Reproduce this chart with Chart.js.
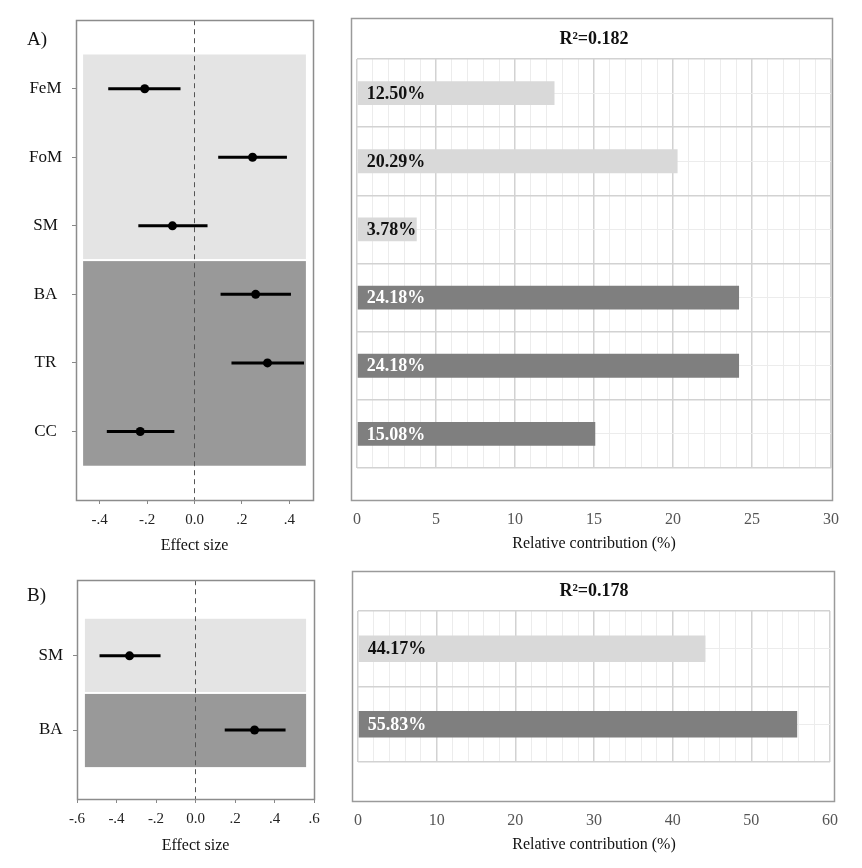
<!DOCTYPE html>
<html>
<head>
<meta charset="utf-8">
<script src="https://cdn.jsdelivr.net/npm/chart.js@4"></script>
<style>
  body { margin: 0; background: #fff; }
  #wrap { position: relative; width: 862px; height: 868px; font-family: 'Liberation Serif', serif; }
  canvas { position: absolute; }
  .tag { position: absolute; font-size: 19px; line-height: 19px; color: #111; }
</style>
</head>
<body>
<div id="wrap">
  <canvas id="forestA" width="340" height="560" style="left:0;top:0"></canvas>
  <canvas id="barA" width="522" height="560" style="left:340px;top:0"></canvas>
  <canvas id="forestB" width="340" height="308" style="left:0;top:560px"></canvas>
  <canvas id="barB" width="522" height="308" style="left:340px;top:560px"></canvas>
  <div class="tag" style="left:27px;top:29px">A)</div>
  <div class="tag" style="left:27px;top:585px">B)</div>
</div>
<script>
// panel A
const factorsA = ['FeM', 'FoM', 'SM', 'BA', 'TR', 'CC'];
const groupA = ['light', 'light', 'light', 'dark', 'dark', 'dark'];
const effectA = [-0.21, 0.245, -0.093, 0.258, 0.308, -0.229];
const lowerA = [-0.364, 0.10, -0.237, 0.11, 0.156, -0.37];
const upperA = [-0.059, 0.39, 0.055, 0.407, 0.462, -0.085];
const contribA = [12.50, 20.29, 3.78, 24.18, 24.18, 15.08];
const r2A = '0.182';
const effectTicksA = [-0.4, -0.2, 0, 0.2, 0.4];
const effectLabelsA = ['-.4', '-.2', '0.0', '.2', '.4'];

// panel B
const factorsB = ['SM', 'BA'];
const groupB = ['light', 'dark'];
const effectB = [-0.334, 0.299];
const lowerB = [-0.486, 0.148];
const upperB = [-0.177, 0.456];
const contribB = [44.17, 55.83];
const r2B = '0.178';
const effectTicksB = [-0.6, -0.4, -0.2, 0, 0.2, 0.4, 0.6];
const effectLabelsB = ['-.6', '-.4', '-.2', '0.0', '.2', '.4', '.6'];

Chart.defaults.font.family = "'Liberation Serif', 'Times New Roman', serif";
Chart.defaults.color = '#222';
Chart.defaults.animation = false;

const shade = { light: '#e4e4e4', dark: '#999999' };
const barShade = { light: '#d9d9d9', dark: '#7f7f7f' };

// grey bands behind the forest plot, one per run of same group
const bandPlugin = {
  id: 'bands',
  beforeDatasetsDraw(chart, args, opts) {
    const { ctx, scales: { x, y } } = chart;
    const g = opts.groups;
    const left = x.getPixelForValue(-opts.halfWidth);
    const right = x.getPixelForValue(opts.halfWidth);
    ctx.save();
    let start = 0;
    for (let i = 1; i <= g.length; i++) {
      if (i === g.length || g[i] !== g[start]) {
        const top = y.getPixelForValue(start - 0.5) + (start > 0 ? 1 : 0);
        const bottom = y.getPixelForValue(i - 0.5) - (i < g.length ? 1 : 0);
        ctx.fillStyle = shade[g[start]];
        ctx.fillRect(left, top, right - left, bottom - top);
        start = i;
      }
    }
    ctx.restore();
  },
};

const framePlugin = {
  id: 'frame',
  afterDraw(chart, args, opts) {
    const { ctx, chartArea: a } = chart;
    const [dl, dt, dr, db] = opts.pad;
    ctx.save();
    ctx.strokeStyle = opts.color;
    ctx.lineWidth = opts.width;
    const l = Math.round(a.left - dl) + 0.5;
    const t = Math.round(a.top - dt) + 0.5;
    const r = Math.round(a.right + dr) + 0.5;
    const b = Math.round(a.bottom + db) + 0.5;
    ctx.strokeRect(l, t, r - l, b - t);
    ctx.restore();
  },
};

const barLabelPlugin = {
  id: 'barLabels',
  afterDatasetsDraw(chart, args, opts) {
    const { ctx } = chart;
    const meta = chart.getDatasetMeta(0);
    const values = chart.data.datasets[0].data;
    ctx.save();
    ctx.font = "bold 18px 'Liberation Serif'";
    ctx.textBaseline = 'middle';
    meta.data.forEach((bar, i) => {
      ctx.fillStyle = opts.groups[i] === 'dark' ? '#ffffff' : '#111111';
      ctx.fillText(values[i].toFixed(2) + '%', bar.base + opts.inset, bar.y + 1);
    });
    ctx.restore();
  },
};

function makeForest(canvasId, cfg) {
  const ci = [];
  cfg.cats.forEach((c, i) => {
    ci.push({ x: cfg.lower[i], y: i }, { x: cfg.upper[i], y: i }, { x: cfg.upper[i], y: null });
  });
  return new Chart(document.getElementById(canvasId), {
    type: 'scatter',
    data: {
      datasets: [
        {
          data: cfg.effect.map((v, i) => ({ x: v, y: i })),
          pointRadius: 4.5,
          pointBackgroundColor: '#000',
          pointBorderWidth: 0,
        },
        {
          data: ci,
          showLine: true,
          spanGaps: false,
          pointRadius: 0,
          borderColor: '#000',
          borderWidth: 3,
        },
        {
          data: [{ x: 0, y: cfg.yMin }, { x: 0, y: cfg.yMax }],
          showLine: true,
          pointRadius: 0,
          borderColor: '#555',
          borderWidth: 1,
          borderDash: [5, 4],
        },
      ],
    },
    options: {
      responsive: false,
      events: [],
      layout: { padding: { top: cfg.padTop, right: cfg.padRight, left: 0, bottom: 0 } },
      plugins: {
        legend: { display: false },
        tooltip: { enabled: false },
        bands: { groups: cfg.groups, halfWidth: cfg.bandHalf },
        frame: { pad: [0, 0, 0, 0], color: '#8c8c8c', width: 1.5 },
      },
      scales: {
        x: {
          type: 'linear',
          min: cfg.xMin,
          max: cfg.xMax,
          afterBuildTicks: (s) => { s.ticks = cfg.ticks.map((v) => ({ value: v })); },
          afterFit: (s) => { s.height = cfg.xHeight; },
          grid: { drawOnChartArea: false, tickLength: 4, color: '#888' },
          border: { display: false },
          ticks: {
            padding: 7,
            font: { size: 15 },
            color: '#222',
            callback: (v, i) => cfg.tickLabels[i],
          },
          title: {
            display: true,
            text: 'Effect size',
            font: { size: 16 },
            color: '#111',
            padding: { top: 0, bottom: cfg.titlePad },
          },
        },
        y: {
          type: 'linear',
          reverse: true,
          min: cfg.yMin,
          max: cfg.yMax,
          afterBuildTicks: (s) => { s.ticks = cfg.cats.map((c, i) => ({ value: i })); },
          afterFit: (s) => { s.width = cfg.yWidth; },
          grid: { drawOnChartArea: false, tickLength: 4, color: '#888' },
          border: { display: false },
          ticks: {
            crossAlign: 'center',
            padding: 10,
            font: { size: 17 },
            color: '#111',
            callback: (v, i) => cfg.cats[i],
          },
        },
      },
    },
    plugins: [bandPlugin, framePlugin],
  });
}

function makeBars(canvasId, cfg) {
  return new Chart(document.getElementById(canvasId), {
    type: 'bar',
    data: {
      labels: cfg.cats,
      datasets: [{
        data: cfg.values,
        backgroundColor: cfg.groups.map((g) => barShade[g]),
        barPercentage: 0.35,
        categoryPercentage: 1,
      }],
    },
    options: {
      indexAxis: 'y',
      responsive: false,
      events: [],
      layout: { padding: { left: cfg.padLeft, right: cfg.padRight, top: 0, bottom: 0 } },
      plugins: {
        legend: { display: false },
        tooltip: { enabled: false },
        title: {
          display: true,
          text: 'R²=' + cfg.r2,
          font: { size: 18, weight: 'bold' },
          color: '#111',
          padding: { top: cfg.titleTop, bottom: cfg.titleBottom },
        },
        frame: { pad: cfg.framePad, color: '#9a9a9a', width: 1.5 },
        barLabels: { groups: cfg.groups, inset: 9 },
      },
      scales: {
        x: {
          min: 0,
          max: cfg.max,
          afterFit: (s) => {
            s.height = cfg.xHeight;
            s.paddingLeft = 0;
            s.paddingRight = 0;
          },
          ticks: {
            stepSize: cfg.minorStep,
            autoSkip: false,
            maxRotation: 0,
            padding: 0,
            font: { size: 16 },
            color: '#555',
            callback: (v) => (v % cfg.majorStep === 0 ? String(v) : ''),
          },
          grid: {
            drawTicks: true,
            tickLength: cfg.tickPad,
            tickColor: 'rgba(0,0,0,0)',
            color: (ctx) => (ctx.tick && ctx.tick.value % cfg.majorStep === 0 ? '#d2d2d2' : '#ececec'),
            lineWidth: (ctx) => (ctx.tick && ctx.tick.value % cfg.majorStep === 0 ? 1.5 : 1),
          },
          border: { display: false },
          title: {
            display: true,
            text: 'Relative contribution (%)',
            font: { size: 16 },
            color: '#111',
            padding: { top: 0, bottom: cfg.titlePad },
          },
        },
        y: {
          afterFit: (s) => { s.width = 0; },
          ticks: { display: false },
          grid: { offset: true, drawTicks: false, color: '#d2d2d2', lineWidth: 1.5 },
          border: { display: false },
        },
        y2: {
          type: 'category',
          position: 'left',
          offset: true,
          afterFit: (s) => { s.width = 0; },
          ticks: { display: false },
          grid: { offset: false, drawTicks: false, color: '#ececec' },
          border: { display: false },
        },
      },
    },
    plugins: [framePlugin, barLabelPlugin],
  });
}

makeForest('forestA', {
  cats: factorsA, groups: groupA, effect: effectA, lower: lowerA, upper: upperA,
  ticks: effectTicksA, tickLabels: effectLabelsA,
  xMin: -0.5, xMax: 0.5, yMin: -1, yMax: 6, bandHalf: 0.47,
  padTop: 18, padRight: 27, yWidth: 76, xHeight: 60, titlePad: 5,
});

makeBars('barA', {
  cats: factorsA, groups: groupA, values: contribA, r2: r2A,
  max: 30, minorStep: 1, majorStep: 5,
  padLeft: 17, padRight: 31, titleTop: 29, titleBottom: 8.4,
  xHeight: 92, tickPad: 42, titlePad: 7, framePad: [6, 41, 1, 32],
});

makeForest('forestB', {
  cats: factorsB, groups: groupB, effect: effectB, lower: lowerB, upper: upperB,
  ticks: effectTicksB, tickLabels: effectLabelsB,
  xMin: -0.6, xMax: 0.6, yMin: -1.02, yMax: 1.93, bandHalf: 0.56,
  padTop: 9, padRight: 26, yWidth: 77, xHeight: 69, titlePad: 13,
});

makeBars('barB', {
  cats: factorsB, groups: groupB, values: contribB, r2: r2B,
  max: 60, minorStep: 2, majorStep: 10,
  padLeft: 18, padRight: 32, titleTop: 21, titleBottom: 8.4,
  xHeight: 106, tickPad: 49, titlePad: 14, framePad: [6, 40, 4, 39],
});
</script>
</body>
</html>
